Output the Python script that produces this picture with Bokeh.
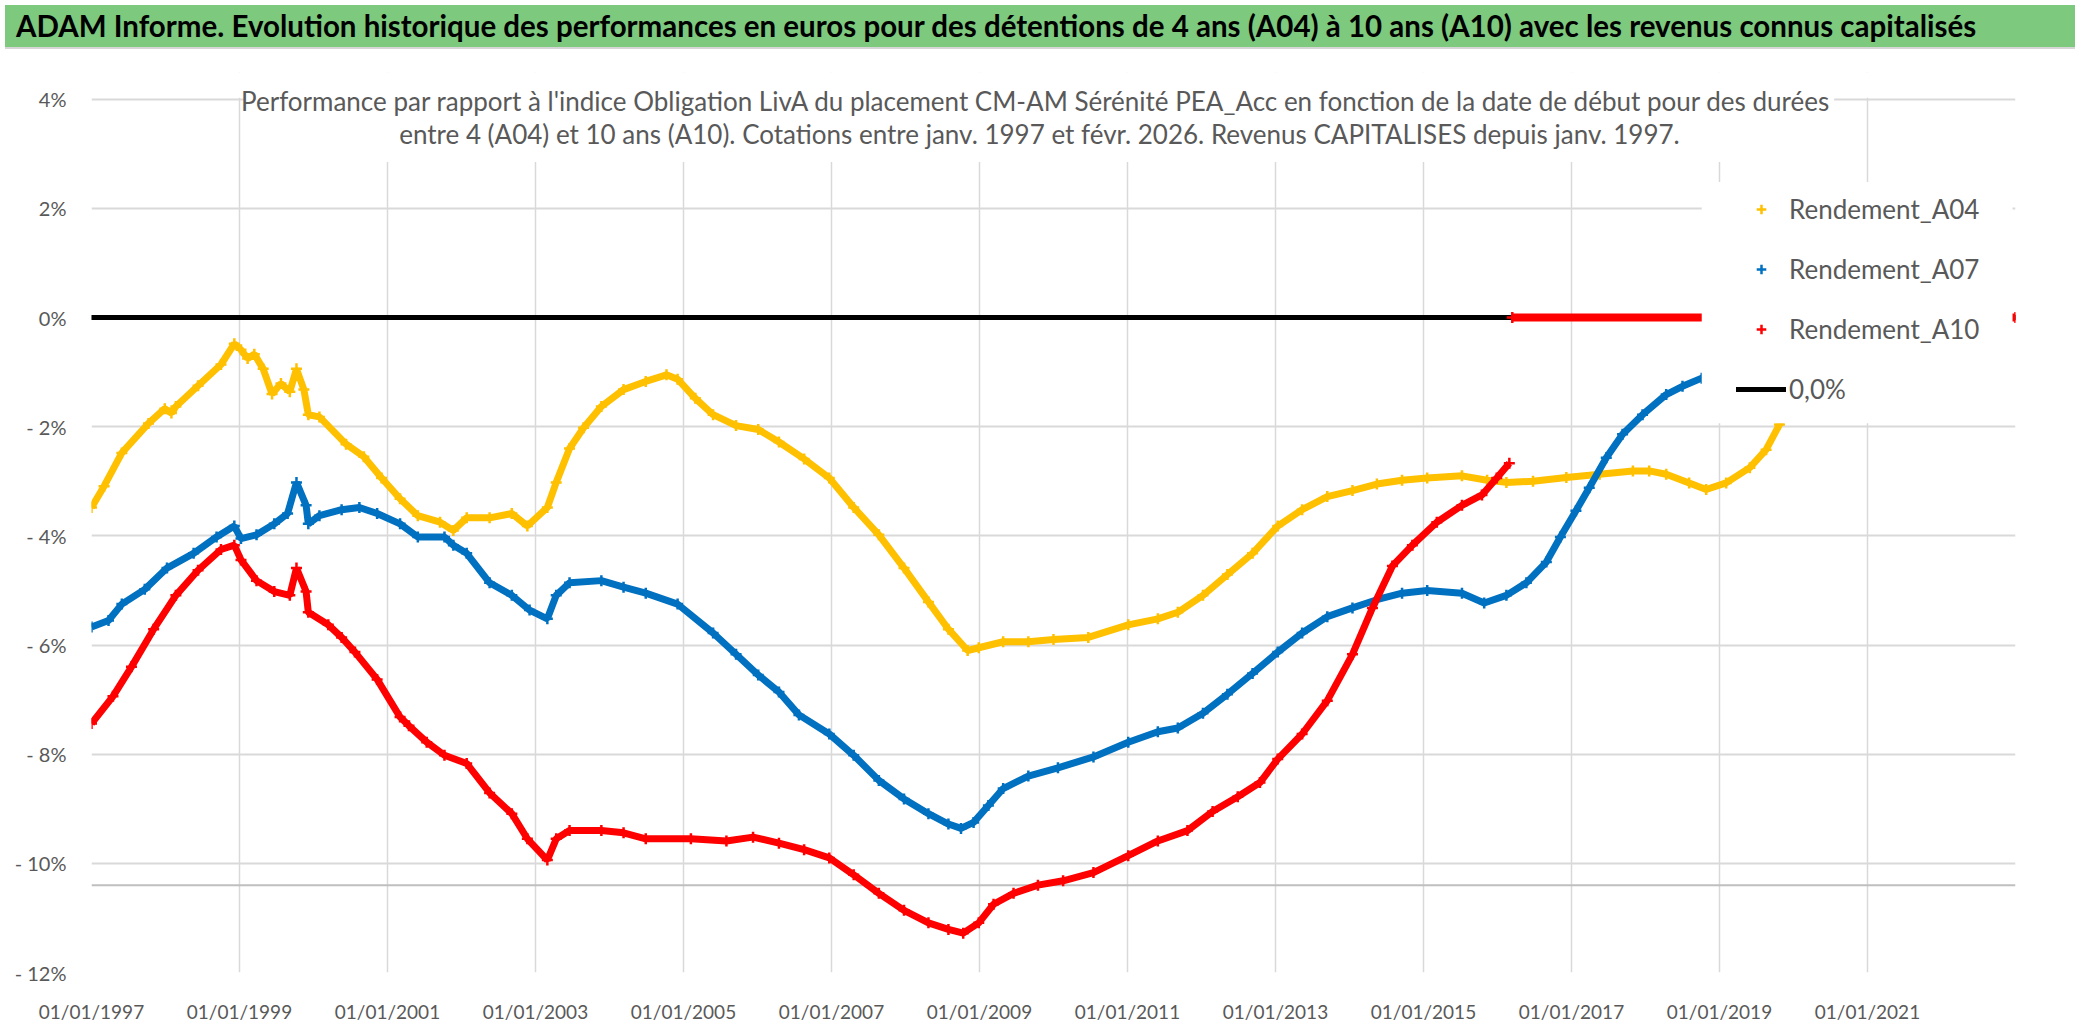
from bokeh.plotting import figure
from bokeh.models import (FixedTicker, Span, BoxAnnotation, Label, Legend,
                          LegendItem, Div, Range1d)
from bokeh.layouts import column
from bokeh.embed import file_html
from bokeh.resources import INLINE

FONT = "Lato"

title_text = ("ADAM Informe. Evolution historique des performances en euros pour des "
              "détentions de 4 ans (A04) à 10 ans (A10) avec les revenus connus capitalisés")
subtitle_lines = [
    "Performance par rapport à l'indice Obligation LivA  du placement CM-AM Sérénité "
    "PEA_Acc en fonction de la date de début pour des durées",
    "entre 4 (A04) et 10 ans (A10). Cotations entre janv. 1997 et févr. 2026. "
    "Revenus CAPITALISES depuis janv. 1997.",
]

x_ticks = [1997, 1999, 2001, 2003, 2005, 2007, 2009, 2011, 2013, 2015, 2017, 2019, 2021]
x_tick_labels = ["01/01/%d" % y for y in x_ticks]
y_ticks = [-12, -10, -8, -6, -4, -2, 0, 2, 4]
y_tick_labels = ["- 12%", "- 10%", "- 8%", "- 6%", "- 4%", "- 2%", "0%", "2%", "4%"]

series_names = ["Rendement_A04", "Rendement_A07", "Rendement_A10"]
zero_label = "0,0%"

# start date (decimal years) and performance (%)
a04_years = [1997.00, 1997.17, 1997.41, 1997.77, 1997.99, 1998.08, 1998.14, 1998.44,
             1998.75, 1998.93, 1999.02, 1999.11, 1999.20, 1999.32, 1999.44, 1999.56,
             1999.68, 1999.77, 1999.87, 1999.93, 2000.08, 2000.44, 2000.68, 2000.92,
             2001.17, 2001.41, 2001.71, 2001.89, 2002.07, 2002.38, 2002.68, 2002.89,
             2003.16, 2003.28, 2003.46, 2003.65, 2003.89, 2004.19, 2004.49, 2004.77,
             2004.92, 2005.16, 2005.40, 2005.71, 2006.01, 2006.29, 2006.63, 2006.97,
             2007.30, 2007.64, 2007.98, 2008.31, 2008.58, 2008.84, 2008.99, 2009.32,
             2009.66, 2010.00, 2010.47, 2011.01, 2011.41, 2011.68, 2012.02, 2012.35,
             2012.69, 2013.03, 2013.36, 2013.70, 2014.04, 2014.37, 2014.71, 2015.05,
             2015.52, 2015.86, 2016.12, 2016.48, 2016.93, 2017.38, 2017.83, 2018.05,
             2018.28, 2018.59, 2018.82, 2019.09, 2019.41, 2019.63, 2019.81, 2019.90]
a04_values = [-3.48, -3.09, -2.48, -1.94, -1.67, -1.75, -1.63, -1.25,
              -0.86, -0.48, -0.59, -0.75, -0.67, -0.94, -1.40, -1.21,
              -1.36, -0.94, -1.32, -1.78, -1.82, -2.32, -2.55, -2.94,
              -3.32, -3.63, -3.75, -3.90, -3.67, -3.67, -3.59, -3.82,
              -3.48, -3.02, -2.40, -2.02, -1.63, -1.32, -1.17, -1.05,
              -1.13, -1.48, -1.78, -1.98, -2.05, -2.28, -2.59, -2.94,
              -3.48, -3.98, -4.59, -5.21, -5.71, -6.10, -6.05, -5.94,
              -5.94, -5.90, -5.86, -5.63, -5.52, -5.40, -5.09, -4.71,
              -4.32, -3.82, -3.52, -3.28, -3.17, -3.05, -2.98, -2.94,
              -2.90, -2.98, -3.02, -3.00, -2.93, -2.87, -2.81, -2.81,
              -2.87, -3.03, -3.15, -3.03, -2.75, -2.42, -1.96, -1.70]

a07_years = [1997.00, 1997.23, 1997.41, 1997.72, 1998.02, 1998.38, 1998.69, 1998.93,
             1999.02, 1999.23, 1999.47, 1999.65, 1999.77, 1999.90, 1999.93, 2000.08,
             2000.38, 2000.62, 2000.86, 2001.17, 2001.41, 2001.77, 2001.89, 2002.07,
             2002.38, 2002.68, 2002.92, 2003.16, 2003.28, 2003.46, 2003.89, 2004.19,
             2004.49, 2004.92, 2005.40, 2005.71, 2006.01, 2006.29, 2006.56, 2006.97,
             2007.30, 2007.64, 2007.98, 2008.31, 2008.58, 2008.75, 2008.92, 2009.12,
             2009.32, 2009.66, 2010.06, 2010.54, 2011.01, 2011.41, 2011.68, 2012.02,
             2012.35, 2012.69, 2013.03, 2013.36, 2013.70, 2014.04, 2014.37, 2014.71,
             2015.05, 2015.52, 2015.82, 2016.12, 2016.39, 2016.66, 2016.85, 2017.06,
             2017.24, 2017.47, 2017.69, 2017.96, 2018.28, 2018.50, 2018.76, 2019.00]
a07_values = [-5.67, -5.55, -5.25, -4.98, -4.59, -4.32, -4.02, -3.82,
              -4.05, -3.98, -3.78, -3.59, -3.02, -3.44, -3.78, -3.63,
              -3.52, -3.48, -3.59, -3.78, -4.02, -4.02, -4.17, -4.32,
              -4.86, -5.09, -5.36, -5.52, -5.09, -4.86, -4.82, -4.94,
              -5.05, -5.25, -5.78, -6.17, -6.55, -6.86, -7.28, -7.63,
              -8.02, -8.48, -8.82, -9.09, -9.28, -9.36, -9.25, -8.94,
              -8.63, -8.40, -8.25, -8.05, -7.78, -7.59, -7.52, -7.25,
              -6.90, -6.52, -6.13, -5.78, -5.48, -5.32, -5.17, -5.05,
              -5.00, -5.05, -5.23, -5.09, -4.86, -4.48, -4.02, -3.54,
              -3.12, -2.57, -2.14, -1.78, -1.41, -1.26, -1.11, -1.00]

a10_years = [1997.00, 1997.29, 1997.54, 1997.84, 1998.14, 1998.44, 1998.75, 1998.93,
             1999.02, 1999.23, 1999.47, 1999.68, 1999.77, 1999.90, 1999.93, 2000.20,
             2000.38, 2000.56, 2000.86, 2001.17, 2001.29, 2001.53, 2001.77, 2002.07,
             2002.38, 2002.68, 2002.89, 2003.16, 2003.28, 2003.46, 2003.89, 2004.19,
             2004.49, 2005.10, 2005.58, 2005.94, 2006.29, 2006.63, 2006.97, 2007.30,
             2007.64, 2007.98, 2008.31, 2008.58, 2008.78, 2008.99, 2009.19, 2009.46,
             2009.79, 2010.13, 2010.54, 2011.01, 2011.41, 2011.81, 2012.15, 2012.49,
             2012.79, 2013.03, 2013.36, 2013.70, 2014.04, 2014.31, 2014.58, 2014.85,
             2015.18, 2015.52, 2015.79, 2015.99, 2016.16]
a10_values = [-7.44, -6.94, -6.40, -5.71, -5.09, -4.63, -4.25, -4.17,
              -4.44, -4.82, -5.02, -5.09, -4.59, -5.02, -5.40, -5.63,
              -5.86, -6.13, -6.63, -7.32, -7.48, -7.78, -8.02, -8.17,
              -8.71, -9.09, -9.55, -9.94, -9.55, -9.40, -9.40, -9.44,
              -9.55, -9.55, -9.59, -9.52, -9.63, -9.75, -9.90, -10.21,
              -10.55, -10.86, -11.09, -11.21, -11.28, -11.09, -10.75, -10.55,
              -10.40, -10.32, -10.17, -9.86, -9.59, -9.40, -9.05, -8.78,
              -8.52, -8.09, -7.63, -7.02, -6.17, -5.32, -4.55, -4.17,
              -3.75, -3.44, -3.25, -2.94, -2.67]
# A10 start dates without a complete 10-year window are shown at 0
a10_tail_years = [2016.20, 2023.00]
a10_tail_values = [0.0, 0.0]

zero_years = [1997.00, 2023.00]
zero_values = [0.0, 0.0]

ref_line_value = -10.40

COL_A04 = "#FFC000"
COL_A07 = "#0070C0"
COL_A10 = "#FF0000"
GREY_TXT = "#595959"
GRID = "#D9D9D9"

Y_TOP = 4.49   # frame reaches a little above the 4% gridline so the subtitle is not clipped

p = figure(width=2070, height=971, x_range=Range1d(1997, 2023), y_range=Range1d(-12, Y_TOP),
           output_backend="svg", toolbar_location=None,
           min_border_left=91, min_border_right=55, min_border_top=18, min_border_bottom=50)
p.background_fill_color = "white"
p.border_fill_color = "white"
p.outline_line_color = None

p.xaxis.ticker = FixedTicker(ticks=x_ticks)
p.xaxis.major_label_overrides = dict(zip(x_ticks, x_tick_labels))
p.yaxis.ticker = FixedTicker(ticks=y_ticks)
p.yaxis.major_label_overrides = dict(zip(y_ticks, y_tick_labels))
for ax in (p.xaxis, p.yaxis):
    ax.axis_line_color = None
    ax.major_tick_line_color = None
    ax.minor_tick_line_color = None
    ax.major_label_text_color = GREY_TXT
    ax.major_label_text_font = FONT
p.xaxis.major_label_text_font_size = "19px"
p.xaxis.major_label_standoff = 21
p.yaxis.major_label_text_font_size = "20px"
p.yaxis.major_label_standoff = 19

p.xgrid.grid_line_color = GRID
p.xgrid.grid_line_width = 1.5
p.ygrid.grid_line_color = GRID
p.ygrid.grid_line_width = 2

p.add_layout(Span(location=ref_line_value, dimension="width", line_color="#BFBFBF",
                  line_width=2, level="underlay"))

zero_r = p.line(zero_years, zero_values, line_color="black", line_width=5, line_cap="round")

legend_renderers = []
for yrs, vals, col in ((a04_years, a04_values, COL_A04),
                       (a07_years, a07_values, COL_A07),
                       (a10_years, a10_values, COL_A10)):
    p.line(yrs, vals, line_color=col, line_width=7)
    r = p.scatter(yrs, vals, marker="cross", size=11, line_width=2.5, line_color=col)
    legend_renderers.append(r)

p.line(a10_tail_years, a10_tail_values, line_color=COL_A10, line_width=8)
p.scatter(a10_tail_years, a10_tail_values, marker="cross", size=11, line_width=2.5,
          line_color=COL_A10)

# white areas: above the 4% gridline, behind the chart subtitle and behind the legend
p.add_layout(BoxAnnotation(bottom=4.027, fill_color="white", fill_alpha=1.0, line_color=None))
p.add_layout(BoxAnnotation(left=1999.07, right=2020.55, bottom=2.85,
                           fill_color="white", fill_alpha=1.0, line_color=None))
p.add_layout(BoxAnnotation(left=2018.76, right=2022.96, bottom=-1.936, top=2.484,
                           fill_color="white", fill_alpha=1.0, line_color=None))

for text, yy in zip(subtitle_lines, (3.96, 3.36)):
    p.add_layout(Label(x=2009.81, y=yy, text=text, text_align="center",
                       text_baseline="middle", text_font=FONT, text_font_size="26px",
                       text_color=GREY_TXT))

items = [LegendItem(label=n, renderers=[r]) for n, r in zip(series_names, legend_renderers)]
items.append(LegendItem(label=zero_label, renderers=[zero_r]))
legend = Legend(items=items, location=(1635, 553), orientation="vertical",
                glyph_width=50, glyph_height=24, label_height=40, label_standoff=3,
                spacing=20, padding=10, margin=0,
                label_text_font=FONT, label_text_font_size="26px",
                label_text_color=GREY_TXT, background_fill_alpha=0.0,
                border_line_alpha=0.0)
p.add_layout(legend, "center")

title_div = Div(text=title_text, width=2070, height=44,
                styles={"background-color": "#7DC97E", "font-family": FONT,
                        "font-weight": "bold", "font-size": "29.5px", "color": "black",
                        "padding-left": "11px", "line-height": "42px",
                        "box-sizing": "border-box", "white-space": "nowrap",
                        "overflow": "hidden", "border-bottom": "2px solid #D6D6D6"})

layout = column(title_div, p, spacing=0)
open("out.html", "w").write(file_html(layout, INLINE))
